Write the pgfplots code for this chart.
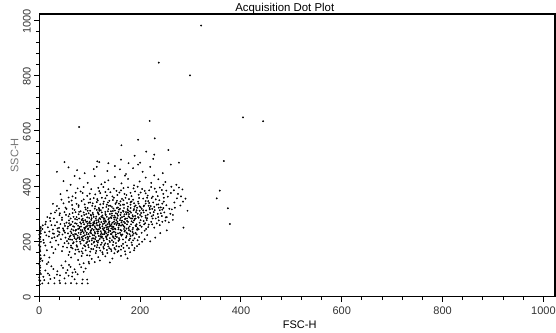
\documentclass[border=0pt]{standalone}
\usepackage{pgfplots}
\pgfplotsset{compat=1.18}
\usepackage{fontspec}
\setmainfont{Liberation Sans}
\begin{document}
\begin{tikzpicture}
\begin{axis}[
  scale only axis,
  width=515.7pt, height=282.7pt,
  xmin=0, xmax=1023, ymin=0, ymax=1023,
  xtick={0,200,400,600,800,1000},
  ytick={0,200,400,600,800,1000},
  minor tick num=4,
  xtick pos=lower, ytick pos=left,
  tick align=outside,
  major tick length=5pt,
  minor tick length=3.5pt,
  axis line style={line width=1.1pt},
  every tick/.style={black, line width=0.9pt},
  /pgf/number format/assume math mode=true,
  /pgf/number format/1000 sep={},
  ticklabel style={font=\fontsize{11}{13}\selectfont, text=black!80},
  yticklabel style={rotate=90, anchor=south, xshift=-1pt},
  xticklabel style={yshift=-1.5pt},
  clip mode=individual,
  axis on top,
]
\addplot[only marks, mark=*, mark size=0.7pt, black] coordinates {
(52,128)(63,142)(71,155)(88,121)(95,150)(104,137)(112,158)(120,131)(131,146)(140,124)(149,157)(58,151)(77,133)(162,148)(175,139)(98,126)(126,154)(84,147)(145,138)(110,125)
(32,172)(38,188)(45,165)(50,194)(55,178)(60,162)(63,185)(68,197)(72,170)(75,181)(79,163)(82,192)(86,175)(89,186)(92,168)(95,198)(98,179)(101,163)(104,190)(107,172)(110,184)(113,166)(116,196)(119,177)(122,188)(125,161)(128,174)(131,193)(134,169)(137,182)(140,198)(143,165)(146,187)(149,176)(152,194)(155,162)(158,181)(162,170)(166,191)(170,164)(174,185)(178,176)(183,196)(188,168)(194,183)(66,175)(84,164)(97,187)(109,199)(121,167)(136,191)(151,171)(163,184)(180,161)(47,181)(58,193)(114,179)(129,187)(142,172)(198,190)
(8,205)(14,222)(20,236)(25,212)(29,228)(33,203)(36,219)(40,233)(43,208)(46,225)(49,238)(52,214)(55,201)(57,229)(60,217)(62,236)(65,206)(67,224)(70,212)(72,239)(74,200)(76,221)(78,231)(80,209)(82,226)(84,215)(86,237)(88,203)(90,222)(92,213)(94,232)(96,207)(98,227)(100,218)(102,238)(104,204)(106,223)(108,211)(110,234)(112,216)(114,201)(116,229)(118,220)(120,209)(122,237)(124,214)(126,226)(128,203)(130,233)(132,218)(134,208)(136,224)(138,239)(140,212)(142,227)(144,204)(146,219)(148,235)(150,210)(152,225)(154,216)(157,202)(160,231)(163,221)(166,207)(169,236)(172,214)(175,228)(178,205)(181,219)(185,234)(189,211)(193,226)(198,216)(203,231)(209,208)(214,223)(64,230)(69,219)(79,215)(85,205)(91,238)(97,212)(103,229)(109,222)(115,236)(121,217)(127,210)(133,229)(139,202)(145,232)(151,219)(158,212)(165,225)(173,219)(180,210)(187,228)(195,204)(30,215)(39,224)(51,232)(58,209)(73,226)(87,219)(99,201)(111,208)(123,230)(135,221)(147,214)
(6,245)(12,262)(17,251)(22,274)(27,243)(31,258)(35,270)(39,249)(42,263)(45,278)(48,241)(51,256)(54,268)(56,247)(59,276)(61,259)(64,244)(66,271)(69,253)(71,266)(73,242)(75,279)(77,257)(79,247)(81,269)(83,254)(85,241)(87,275)(89,262)(91,249)(93,271)(95,256)(97,244)(99,267)(101,252)(103,278)(105,246)(107,261)(109,273)(111,250)(113,264)(115,243)(117,277)(119,258)(121,248)(123,270)(125,255)(127,242)(129,266)(131,276)(133,251)(135,262)(137,245)(139,272)(141,257)(143,247)(145,268)(147,253)(149,279)(151,244)(153,260)(155,271)(157,250)(159,263)(161,242)(164,275)(167,256)(170,266)(173,246)(176,271)(179,254)(182,262)(185,243)(188,276)(191,258)(195,248)(199,268)(203,253)(207,274)(212,245)(217,261)(222,271)(228,250)(233,265)(63,262)(68,240)(74,264)(84,278)(90,245)(96,264)(102,257)(108,242)(114,268)(120,262)(126,247)(132,258)(138,268)(144,255)(150,247)(156,265)(162,257)(168,245)(174,262)(186,269)(194,242)(110,255)(100,272)(80,252)(118,244)(128,273)(136,252)(146,243)(152,267)(160,277)(178,241)(200,258)(210,266)(24,259)(36,247)(50,264)
(16,288)(23,301)(29,283)(34,312)(40,295)(45,286)(50,306)(54,318)(58,291)(62,283)(66,303)(70,314)(74,288)(78,298)(82,309)(86,282)(89,296)(92,316)(95,287)(98,302)(101,311)(104,284)(107,297)(110,319)(113,290)(116,305)(119,284)(122,313)(125,294)(128,281)(131,307)(134,289)(137,317)(140,299)(143,285)(146,310)(149,293)(152,302)(155,284)(158,315)(161,296)(164,288)(167,308)(170,281)(173,299)(176,312)(179,287)(182,304)(185,295)(188,317)(191,283)(195,300)(199,311)(203,290)(207,305)(211,286)(215,297)(219,316)(223,291)(227,306)(231,283)(235,300)(239,313)(243,292)(248,305)(253,288)(60,299)(72,306)(84,292)(96,311)(108,289)(118,298)(124,305)(132,296)(138,284)(144,301)(150,312)(156,293)(162,304)(168,291)(174,283)(180,309)(186,290)(192,306)(200,296)(206,313)(214,284)(220,303)(226,295)(236,288)(244,315)(88,305)(102,296)(114,314)(126,287)(136,309)(148,286)(160,318)(172,306)(184,283)(196,288)
(27,336)(35,328)(44,351)(52,322)(59,343)(65,332)(72,357)(78,325)(84,346)(90,334)(96,321)(101,353)(106,338)(111,327)(116,348)(121,334)(126,322)(131,356)(136,341)(141,329)(146,350)(151,336)(156,323)(161,345)(166,333)(171,358)(176,326)(181,342)(186,351)(191,330)(196,344)(201,324)(206,355)(211,337)(216,346)(221,328)(226,341)(231,352)(236,334)(241,323)(247,344)(252,331)(88,352)(98,340)(108,357)(118,321)(128,344)(138,329)(148,358)(158,337)(168,321)(178,353)(188,338)(198,357)(208,330)(218,339)(228,325)(238,349)(244,337)(64,348)(74,336)(114,342)(134,333)(154,347)(174,339)(194,322)(214,358)(124,358)(144,325)(164,354)
(42,371)(55,384)(66,363)(76,392)(86,375)(95,365)(103,389)(111,370)(119,382)(127,397)(134,366)(141,378)(148,391)(155,368)(162,385)(169,372)(176,396)(183,364)(190,381)(197,369)(204,390)(211,374)(218,385)(225,362)(232,379)(239,395)(246,372)(252,384)(82,381)(100,373)(117,394)(131,379)(145,363)(159,377)(173,368)(187,392)(201,377)(215,366)(229,391)(243,386)
(48,418)(62,405)(80,428)(96,412)(110,436)(123,407)(137,421)(150,433)(163,410)(176,426)(188,403)(199,417)(211,431)(222,412)(236,425)(246,405)(70,437)(130,414)(170,438)(228,439)
(35,452)(58,468)(90,447)(108,462)(135,455)(150,473)(172,444)(186,465)(205,452)(220,470)(245,447)(115,490)(160,461)(75,458)(200,485)
(50,487)(119,487)(137,483)(162,496)(177,483)(189,510)(196,478)(226,499)(228,514)(261,478)(114,470)(277,485)(163,548)(212,525)
(67,193)(73,208)(81,199)(93,194)(105,211)(117,203)(124,195)(133,213)(147,198)(159,206)(171,197)(186,204)(62,221)(77,245)(93,253)(103,241)(117,236)(129,249)(141,238)(157,244)(169,252)(181,237)(192,255)(59,266)(71,281)(87,269)(99,285)(113,276)(123,289)(137,279)(151,287)(163,269)(177,291)(189,281)(201,277)(211,293)(66,318)(78,331)(91,323)(105,329)(119,317)(133,325)(147,319)(161,331)(175,317)(189,326)(203,318)(217,329)(229,313)(241,302)(83,233)(97,247)(111,229)(129,239)(143,226)(163,239)(177,248)(191,231)(107,267)(121,281)(139,263)(153,277)(171,283)(183,273)(197,286)(213,277)(225,283)(237,276)(57,254)(47,247)(37,237)(27,229)(19,218)(11,233)(7,258)(13,271)(21,285)(41,302)(53,296)(68,289)(79,307)(93,299)(106,303)(119,311)(131,299)(144,293)(157,307)(169,298)(181,321)(193,313)(207,327)(219,321)(233,333)(246,321)(101,341)(115,353)(127,336)(139,347)(153,341)(167,349)(181,333)(197,337)(211,346)(223,357)(235,364)(247,358)(121,375)(137,389)(153,383)(167,393)(181,376)(195,398)(209,383)(222,397)(88,397)(72,376)(58,359)(48,338)(39,319)(31,305)(63,178)(77,171)(91,182)(103,173)(115,187)(127,180)(139,175)(153,183)(167,177)(184,187)(86,157)(100,149)(117,143)(135,158)(157,166)(171,153)(189,176)(204,199)(209,239)(216,252)(224,262)(239,259)(244,271)(251,287)(257,269)(263,316)(269,322)(273,356)(281,363)(277,395)(267,385)(261,375)
(82,241)(94,226)(106,258)(118,271)(131,236)(143,262)(156,229)(168,271)(179,226)(193,262)(76,212)(89,249)(101,233)(112,283)(126,263)(137,233)(149,263)(162,225)(174,274)(186,249)(91,277)(103,293)(117,301)(129,283)(142,309)(154,321)(166,311)(178,299)(190,292)(202,303)(96,217)(108,196)(122,224)(134,244)(148,271)(161,284)(173,232)(185,222)(197,244)(208,262)(67,255)(79,283)(86,211)(99,257)(113,245)(124,218)(139,254)(151,232)(165,261)(176,305)(187,313)(199,327)(212,312)(224,318)(237,322)(71,227)(83,264)(95,272)(109,266)(120,252)(132,271)(146,249)(158,258)(170,239)(182,283)(61,207)(74,186)(88,231)(102,265)(115,258)(129,227)(141,287)(155,299)(168,333)(183,344)
(1,45)(2,58)(0,70)(3,82)(1,94)(2,105)(0,118)(1,127)(3,139)(2,150)(0,161)(1,172)(2,181)(0,190)(3,199)(1,208)(2,216)(0,224)(1,232)(3,238)(2,246)(0,60)(1,112)(2,165)(0,210)(3,252)(1,88)(2,135)(0,185)(3,228)
(6,48)(18,49)(30,48)(41,49)(52,48)(63,49)(74,48)(85,48)(96,48)(86,62)(95,62)(70,63)(40,58)(22,64)
(8,72)(12,95)(17,84)(24,110)(30,68)(36,92)(41,77)(47,104)(53,86)(59,115)(65,73)(70,99)(76,81)(83,107)(88,90)(15,118)(28,100)(35,80)(44,113)(56,96)(62,108)(72,89)(80,117)(92,102)(99,120)(10,60)(20,78)(50,66)(66,87)(58,76)
(6,130)(10,150)(15,168)(20,142)(25,180)(9,195)(18,125)(28,158)(12,185)(22,197)
(255,362)(262,398)(268,341)(275,372)(258,318)(265,296)(280,330)(290,355)(272,405)(250,415)(284,388)(294,311)(286,250)(265,278)(285,344)(253,240)(240,230)(230,214)(220,200)(250,275)(260,300)
(321,981)(237,847)(299,801)(79,614)(219,636)(196,568)(229,573)(256,531)(404,649)(444,635)(366,491)(352,356)(358,384)(374,320)(378,263)
};
\node[anchor=base, font=\fontsize{11.4}{13}\selectfont] at (rel axis cs:0.476,1) [yshift=2.5pt] {Acquisition Dot Plot};
\node[anchor=base, font=\fontsize{11}{13}\selectfont] at (rel axis cs:0.505,0) [yshift=-31.5pt] {FSC-H};
\node[anchor=base, rotate=90, yshift=21pt, font=\fontsize{11}{13}\selectfont, text=black!55] at (rel axis cs:0,0.5) {SSC-H};
\end{axis}
\pgfresetboundingbox
\path[use as bounding box] (-39.3pt,-35.3pt) rectangle (516.7pt,296.7pt);
\end{tikzpicture}
\end{document}
